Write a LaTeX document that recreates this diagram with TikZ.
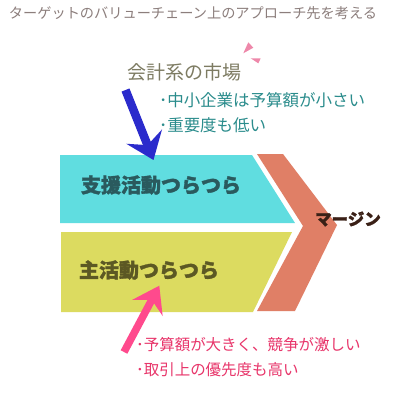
\documentclass[tikz,border=0pt]{standalone}
\usepackage{fontspec}
\setmainfont{Noto Sans CJK JP}
\newfontfamily\heavyfont{Noto Sans CJK JP}[BoldFeatures={FakeBold=1.6}]
\usetikzlibrary{arrows.meta}

\begin{document}
\begin{tikzpicture}[x=1pt,y=-1pt,
  plaintext/.style={inner sep=0pt,outer sep=0pt},
  boxtext/.style={plaintext,font=\fontsize{20}{20}\heavyfont\bfseries},
  notetext/.style={plaintext,anchor=west,font=\fontsize{16.5}{16.5}\selectfont},
  pinknote/.style={plaintext,anchor=west,font=\fontsize{15.5}{15.5}\selectfont,text=notepink},
  pointer/.style={line width=#1,line cap=butt}]
\definecolor{titlegray}{HTML}{8C7E7C}
\definecolor{marketolive}{HTML}{7D7B62}
\definecolor{noteteal}{HTML}{2A8C8C}
\definecolor{notepink}{HTML}{E8356A}
\definecolor{supportcyan}{HTML}{60DDE0}
\definecolor{supportdark}{HTML}{2A5A5E}
\definecolor{primaryyellow}{HTML}{DCDB60}
\definecolor{primarydark}{HTML}{5C5824}
\definecolor{marginsalmon}{HTML}{E07F66}
\definecolor{margindark}{HTML}{3A2016}
\definecolor{arrowblue}{HTML}{2B2BCC}
\definecolor{arrowpink}{HTML}{FF4A8D}
\definecolor{sparkpink}{HTML}{EE88AA}
\useasboundingbox[fill=white] (0,0) rectangle (400,400);

% value chain shapes
\fill[supportcyan] (60,155) -- (252,155) -- (295,223) -- (60,223) -- cycle;
\fill[primaryyellow] (61,232) -- (292,232) -- (253,312) -- (61,312) -- cycle;
\fill[marginsalmon] (257,154) -- (283,154) -- (337,225) -- (295,311)
  -- (257,311) -- (303,226) -- cycle;

% small sparkle
\fill[sparkpink] (243.3,53.3) -- (248.3,42.3) -- (253.3,47.7) -- cycle;
\fill[sparkpink] (250.7,58.3) -- (260.7,58.3) -- (258.3,63.3) -- cycle;

\node[plaintext,font=\fontsize{14.2}{14.2}\selectfont,text=titlegray] (title) at (193,13)
  {ターゲットのバリューチェーン上のアプローチ先を考える};
\node[plaintext,font=\fontsize{19}{19}\selectfont,text=marketolive] (market) at (185,72)
  {会計系の市場};
\node[notetext,text=noteteal] (smallbudget) at (159,100) {･中小企業は予算額が小さい};
\node[notetext,text=noteteal] (lowpriority) at (159,125) {･重要度も低い};

\node[boxtext,text=supportdark] (support) at (161,185) {支援活動つらつら};
\node[boxtext,text=primarydark] (primary) at (149,270) {主活動つらつら};
\node[plaintext,font=\fontsize{16.5}{16.5}\heavyfont\bfseries,text=margindark] (margin) at (348,219)
  {マージン};

\node[pinknote] (bigbudget) at (136,345) {･予算額が大きく、競争が激しい};
\node[pinknote] (highpriority) at (136,370) {･取引上の優先度も高い};

% pointers
\coordinate (bluestart) at (125.5,90);
\coordinate (bluetip) at (153.5,160);
\coordinate (pinkstart) at (124,352);
\coordinate (pinktip) at (159.3,285.7);
\draw[pointer=8.5pt,arrowblue,-{Stealth[length=25pt,width=38pt,inset=9pt]}]
  (bluestart) -- (bluetip);
\draw[pointer=7.5pt,arrowpink,-{Stealth[length=25pt,width=34pt,inset=9pt]}]
  (pinkstart) -- (pinktip);
\end{tikzpicture}
\end{document}
